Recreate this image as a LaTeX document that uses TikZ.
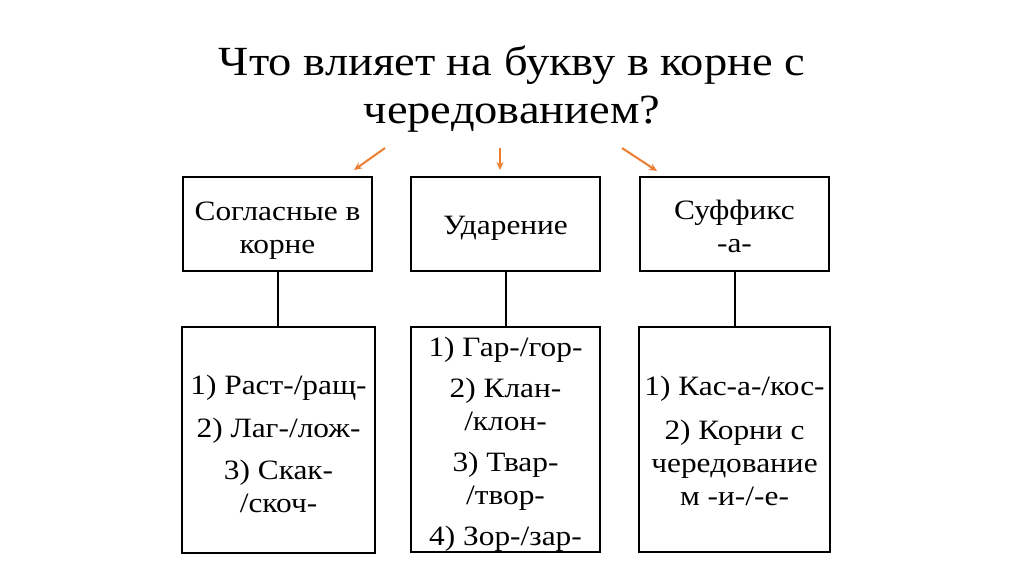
\documentclass[tikz,border=0pt]{standalone}
\usepackage{fontspec}
\setmainfont{Liberation Serif}[FakeStretch=1.12]
\usetikzlibrary{arrows.meta,calc}
\definecolor{arroworange}{HTML}{ED7D31}
\tikzset{
  frame/.style={draw=black, line width=2pt, inner sep=0pt},
  topbox/.style={frame, minimum width=189pt, minimum height=94pt},
  lowbox/.style={frame, minimum width=191pt, minimum height=225pt},
  boxtext/.style={align=center, inner sep=0pt, font=\fontsize{28}{33}\selectfont},
  link/.style={draw=black, line width=2pt},
  hint/.style={draw=arroworange, line width=2pt, -{Stealth[length=8pt,width=7pt]}}
}
\begin{document}
\begin{tikzpicture}[x=1pt,y=-1pt]
\useasboundingbox[fill=white] (0,0) rectangle (1024,574);
\node[align=center, inner sep=0pt, font=\fontsize{41.5}{48}\selectfont] (title) at (512,89) {Что влияет на букву в корне с\\чередованием?};

\node[topbox] (t1) at (277.5,224) {};
\node[topbox] (t2) at (505.5,224) {};
\node[topbox] (t3) at (734.5,224) {};
\node[boxtext] (t1text) at ($(t1.center)+(0,7)$) {Согласные в\\корне};
\node[boxtext] (t2text) at ($(t2.center)+(0,4)$) {Ударение};
\node[boxtext] (t3text) at ($(t3.center)+(0,2)$) {Суффикс\\-а-};

\node[lowbox, minimum width=193pt, minimum height=226pt] (b1) at (278.5,440) {};
\node[lowbox, minimum width=189pt] (b2) at (505.5,439.5) {};
\node[lowbox] (b3) at (734.5,439.5) {};
\node[boxtext] (b1text) at ($(b1.center)+(0,4)$) {1) Раст-/ращ-\\[10pt]2) Лаг-/лож-\\[9pt]3) Скак-\\/скоч-};
\node[boxtext] (b2text) at ($(b2.center)+(0,5)$) {1) Гар-/гор-\\[8pt]2) Клан-\\/клон-\\[8pt]3) Твар-\\/твор-\\[8pt]4) Зор-/зар-};
\node[boxtext] (b3text) at ($(b3.center)+(0,1.5)$) {1) Кас-а-/кос-\\[11pt]2) Корни с\\чередование\\м -и-/-е-};

\draw[link] (t1.south) -- (b1.north -| t1.south);
\draw[link] (t2.south) -- (b2.north -| t2.south);
\draw[link] (t3.south) -- (b3.north -| t3.south);

\coordinate (a1s) at (385,148);
\coordinate (a1e) at (354,170);
\coordinate (a2s) at (500,148);
\coordinate (a2e) at (500,170);
\coordinate (a3s) at (622,148);
\coordinate (a3e) at (657,171);
\draw[hint] (a1s) -- (a1e);
\draw[hint] (a2s) -- (a2e);
\draw[hint] (a3s) -- (a3e);
\end{tikzpicture}
\end{document}
